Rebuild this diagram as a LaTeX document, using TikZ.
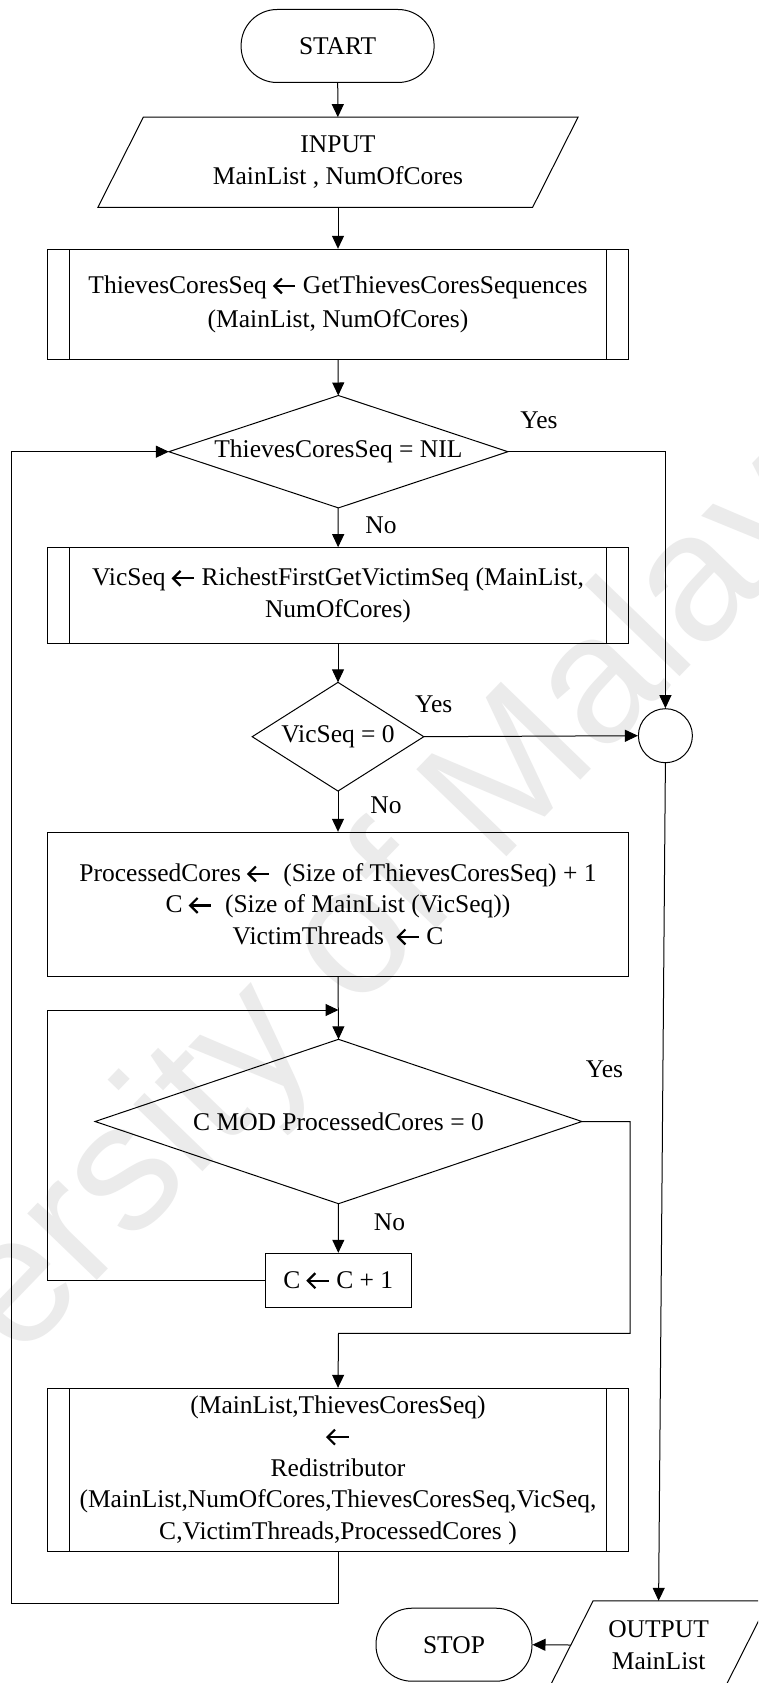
\documentclass[tikz,border=0pt]{standalone}
\usepackage{fontspec}
\setmainfont{Liberation Serif}
\newfontfamily\markfont{Liberation Sans}
\usetikzlibrary{arrows.meta,calc}
% open-headed assignment arrow used inside the boxes
\newcommand{\lar}{\tikz[baseline={(0pt,-7.5pt)}]{%
  \draw[line width=2.2pt, line cap=butt] (2pt,0pt) -- (22pt,0pt);
  \draw[line width=2.2pt, line join=miter, line cap=butt]
    (8.5pt,7.5pt) -- (1pt,0pt) -- (8.5pt,-7.5pt);}}

\begin{document}
\begin{tikzpicture}[x=1pt,y=-1pt,
  every node/.style={font=\fontsize{25.5}{31.5}\selectfont, inner sep=0pt, align=center},
  line/.style={line width=1pt},
  arr/.style={line width=1pt, -{Triangle[length=13pt,width=12pt]}},
  terminal/.style={draw, line width=1pt, rectangle, rounded corners=36pt,
    minimum height=73pt},
  procbox/.style={draw, line width=1pt, rectangle, minimum width=581.2pt},
  subproc/.style={procbox, path picture={
      \draw[line width=1pt] ([xshift=22.2pt]path picture bounding box.north west)
        -- ([xshift=22.2pt]path picture bounding box.south west);
      \draw[line width=1pt] ([xshift=-22.2pt]path picture bounding box.north east)
        -- ([xshift=-22.2pt]path picture bounding box.south east);}},
  decision/.style={rectangle},
  iobox/.style={rectangle},
  connector/.style={draw, line width=1pt, circle, minimum size=54pt},
  lbl/.style={anchor=base}
]
\path[use as bounding box, clip] (0,0) rectangle (758,1683);
\fill[white] (0,0) rectangle (758,1683);

% faint background watermark
\node[font=\markfont\fontsize{182}{182}\selectfont, text=black!8, rotate=46]
  (wm) at (301,1002) {University of Malaya};

% nodes
\node[terminal, minimum width=193pt] (start) at (337.6,46) {START};
\node[iobox, minimum width=434.3pt, minimum height=89.7pt] (in) at (338,162.2)
  {INPUT\\MainList , NumOfCores};
\draw[line] ($(in.north west)+(22.7,0)$) -- ($(in.north east)+(22.7,0)$)
  -- ($(in.south east)+(-22.7,0)$) -- ($(in.south west)+(-22.7,0)$) -- cycle;

\node[subproc, minimum height=110pt] (b1) at (338,304.3)
  {ThievesCoresSeq \lar{} GetThievesCoresSequences\\[2.5pt](MainList, NumOfCores)};

\node[decision, minimum width=338.7pt, minimum height=112pt] (d1) at (338.4,451.7)
  {ThievesCoresSeq = NIL};
\draw[line] (d1.north) -- (d1.east) -- (d1.south) -- (d1.west) -- cycle;

\node[subproc, minimum height=95.6pt] (b2) at (338,595.5)
  {VicSeq \lar{} RichestFirstGetVictimSeq (MainList,\\NumOfCores)};

\node[decision, minimum width=171.2pt, minimum height=108.3pt] (d2) at (338,736.7)
  {VicSeq = 0};
\draw[line] (d2.north) -- (d2.east) -- (d2.south) -- (d2.west) -- cycle;

\node[connector] (circ) at (665.4,735.7) {};

\node[procbox, minimum height=144.4pt] (b3) at (338,904.5)
  {ProcessedCores \lar{}\ \ (Size of ThievesCoresSeq) + 1\\
   C \lar{}\ \ (Size of MainList (VicSeq))\\
   VictimThreads\ \ \lar{} C};

\node[decision, minimum width=486.4pt, minimum height=164pt] (d3) at (338.5,1121.5)
  {C MOD ProcessedCores = 0};
\draw[line] (d3.north) -- (d3.east) -- (d3.south) -- (d3.west) -- cycle;

\node[draw, line width=1pt, minimum width=145.5pt, minimum height=54pt] (bc)
  at (338.25,1280.3) {C \lar{} C + 1};

\node[subproc, minimum height=163.4pt] (b4) at (338,1470)
  {(MainList,ThievesCoresSeq)\\ \lar\\ Redistributor\\
   (MainList,NumOfCores,ThievesCoresSeq,VicSeq,\\
   C,VictimThreads,ProcessedCores )};

\node[iobox, minimum width=175.2pt, minimum height=88pt] (out) at (658.6,1645)
  {OUTPUT\\MainList};
\draw[line] ($(out.north west)+(22.3,0)$) -- ($(out.north east)+(22.3,0)$)
  -- ($(out.south east)+(-22.3,0)$) -- ($(out.south west)+(-22.3,0)$) -- cycle;

\node[terminal, minimum width=156pt] (stop) at (454,1644.7) {STOP};

% junction points of the loops
\coordinate (j1) at (338.5,1010);
\coordinate (ic) at (47.4,1280.3);
\coordinate (yr) at (630,1333.3);
\coordinate (j2) at (338.5,1333.3);
\coordinate (lb) at (11,1603.3);

% connectors
\draw[arr] (start) -- (in);
\draw[arr] (in) -- (b1);
\draw[arr] (b1) -- (d1);
\draw[arr] (d1.east) -| (circ.north);
\draw[arr] (d1) -- (b2);
\draw[arr] (b2) -- (d2);
\draw[arr] (d2.east) -- (circ.west);
\draw[arr] (d2) -- (b3);
\draw[arr] (b3.south) -- (d3.north);
\draw[arr] (d3) -- (bc);
\draw[arr] (bc.west) -- (ic) |- (j1);
\draw[arr] (d3.east) -| (yr) -- (j2) -- (b4.north);
\draw[arr] (b4.south) |- (lb) |- (d1.west);
\draw[arr] (circ.south) -- (out.north);
\draw[arr] (out.west) -- (stop.east);

% branch labels
\node[lbl] (y1) at (539,428) {Yes};
\node[lbl] (n1) at (381,533) {No};
\node[lbl] (y2) at (433.7,712) {Yes};
\node[lbl] (n2) at (386,813) {No};
\node[lbl] (y3) at (604.5,1077) {Yes};
\node[lbl] (n3) at (389.5,1230) {No};
\end{tikzpicture}
\end{document}
